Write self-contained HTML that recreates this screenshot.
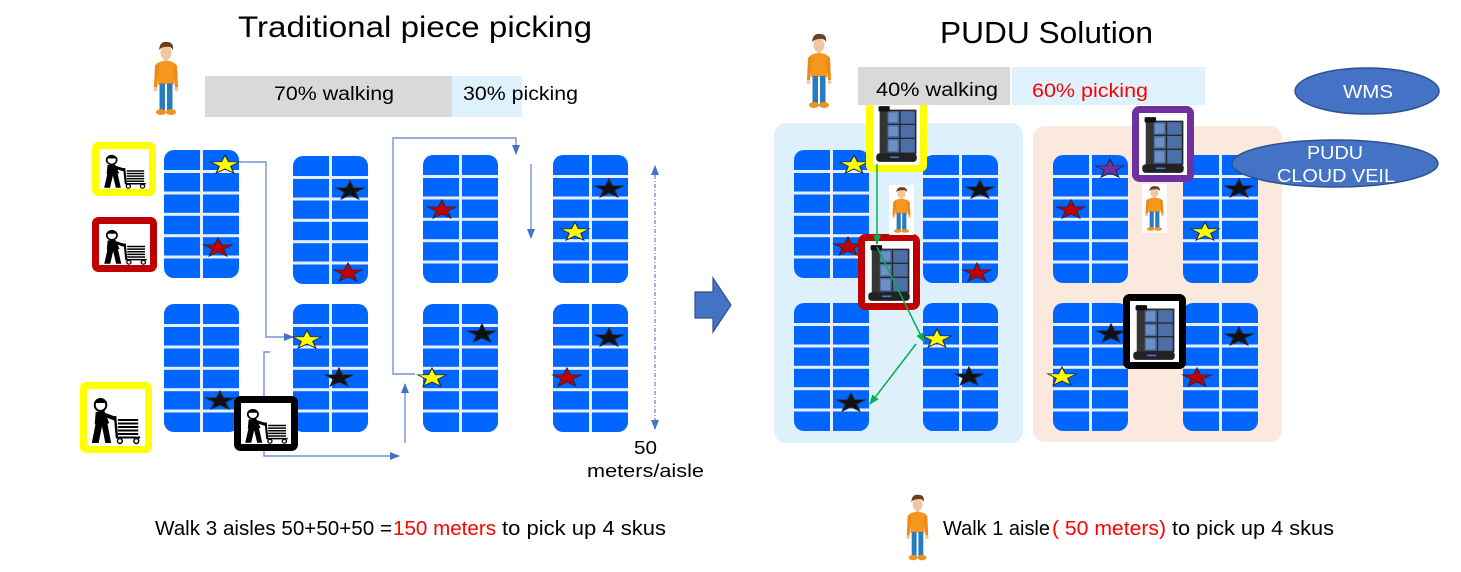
<!DOCTYPE html>
<html>
<head>
<meta charset="utf-8">
<style>
html,body{margin:0;padding:0;background:#fff;}
svg{display:block;}
text{font-family:"Liberation Sans",Arial,sans-serif;}
</style>
</head>
<body>
<svg width="1461" height="572" viewBox="0 0 1461 572" xmlns="http://www.w3.org/2000/svg">
<defs>
  <symbol id="shelf" viewBox="0 0 75 128" width="75" height="128">
    <rect x="0" y="0" width="75" height="128" rx="10" fill="#0066ff"/>
    <rect x="36" y="0" width="3" height="128" fill="#e6efff"/>
    <rect x="0" y="20" width="75" height="3" fill="#e6efff"/>
    <rect x="0" y="41.5" width="75" height="3" fill="#e6efff"/>
    <rect x="0" y="62.8" width="75" height="3" fill="#e6efff"/>
    <rect x="0" y="84.2" width="75" height="3" fill="#e6efff"/>
    <rect x="0" y="105.5" width="75" height="3" fill="#e6efff"/>
  </symbol>
  <path id="star" d="M0,-1 L0.235,-0.324 L0.951,-0.309 L0.380,0.124 L0.588,0.809 L0,0.4 L-0.588,0.809 L-0.380,0.124 L-0.951,-0.309 L-0.235,-0.324 Z"/>
  <symbol id="person" viewBox="0 0 28 78" preserveAspectRatio="none">
    <ellipse cx="14" cy="13" rx="5.5" ry="7" fill="#f2c6a0"/>
    <path d="M7,10 Q8,1 15,2 Q22,2 21,10 Q19,6 14,7 Q10,7 7,10 Z" fill="#6b3e1e"/>
    <rect x="12" y="19" width="4" height="4" fill="#f2c6a0"/>
    <path d="M6,23 Q14,19 22,23 L22,45 L6,45 Z" fill="#f5961d"/>
    <path d="M6,23 L3,26 L2,48 L5,48 L7,30 Z" fill="#f08a10"/>
    <path d="M22,23 L25,26 L26,48 L23,48 L21,30 Z" fill="#f08a10"/>
    <circle cx="3.5" cy="50" r="2" fill="#f2c6a0"/>
    <circle cx="24.5" cy="50" r="2" fill="#f2c6a0"/>
    <rect x="7.5" y="44" width="5.5" height="27" fill="#2a7cc0"/>
    <rect x="15" y="44" width="5.5" height="27" fill="#2a7cc0"/>
    <ellipse cx="9" cy="73" rx="5" ry="3" fill="#f0901d"/>
    <ellipse cx="19" cy="73" rx="5" ry="3" fill="#f0901d"/>
  </symbol>
  <symbol id="worker" viewBox="0 0 60 56" preserveAspectRatio="none">
    <circle cx="14" cy="15" r="6" fill="#fff" stroke="#000" stroke-width="2"/>
    <path d="M7,13 Q14,3 21,13 Z" fill="#000"/>
    <polygon points="9,22 18,21 23,33 14,37 8,34" fill="#000"/>
    <line x1="16" y1="24" x2="30" y2="29" stroke="#000" stroke-width="4"/>
    <polygon points="9,33 16,34 12,53 5,53" fill="#000"/>
    <polygon points="15,34 21,33 25,53 19,53" fill="#000"/>
    <line x1="29" y1="26" x2="31" y2="48" stroke="#000" stroke-width="2.5"/>
    <rect x="32" y="29" width="21" height="2" fill="#000"/>
    <rect x="32" y="32.5" width="21" height="2" fill="#000"/>
    <rect x="32" y="36" width="21" height="2" fill="#000"/>
    <rect x="32" y="39.5" width="21" height="2" fill="#000"/>
    <rect x="32" y="43" width="21" height="2" fill="#000"/>
    <line x1="30" y1="47.5" x2="55" y2="47.5" stroke="#000" stroke-width="2"/>
    <circle cx="34" cy="51" r="2.5" fill="#fff" stroke="#000" stroke-width="1.5"/>
    <circle cx="51" cy="51" r="2.5" fill="#fff" stroke="#000" stroke-width="1.5"/>
  </symbol>
  <symbol id="robot" viewBox="0 0 40 56" preserveAspectRatio="none">
    <rect x="10" y="6" width="27" height="40" fill="#4d6fa8" stroke="#2b2b2b" stroke-width="1.5"/>
    <line x1="10" y1="19" x2="37" y2="19" stroke="#2b2b2b" stroke-width="1.3"/>
    <line x1="10" y1="32" x2="37" y2="32" stroke="#2b2b2b" stroke-width="1.3"/>
    <line x1="23" y1="6" x2="23" y2="46" stroke="#2b2b2b" stroke-width="1.3"/>
    <rect x="13" y="8" width="8" height="9" fill="#6d8fc6"/>
    <rect x="13" y="21" width="8" height="9" fill="#6d8fc6"/>
    <rect x="13" y="34" width="8" height="10" fill="#6d8fc6"/>
    <rect x="5" y="5" width="7" height="43" fill="#353535"/>
    <rect x="4" y="2" width="10" height="5" rx="1" fill="#111"/>
    <rect x="2" y="46" width="36" height="8" rx="3" fill="#222"/>
    <rect x="14" y="49" width="8" height="1.5" fill="#3a7bd5"/>
  </symbol>
  <marker id="ab" markerWidth="10" markerHeight="10" refX="9" refY="5" orient="auto-start-reverse" markerUnits="userSpaceOnUse">
    <path d="M0,1 L10,5 L0,9 Z" fill="#4472c4"/>
  </marker>
  <marker id="ag" markerWidth="10" markerHeight="10" refX="9" refY="5" orient="auto" markerUnits="userSpaceOnUse">
    <path d="M0,1 L10,5 L0,9 Z" fill="#00b050"/>
  </marker>
</defs>

<!-- Titles -->
<text x="238" y="37" font-size="30" textLength="354" lengthAdjust="spacingAndGlyphs" fill="#000">Traditional piece picking</text>
<text x="940" y="43" font-size="31" textLength="213" lengthAdjust="spacingAndGlyphs" fill="#000">PUDU Solution</text>

<!-- Left bar -->
<rect x="205" y="76" width="247" height="41" fill="#d9d9d9"/>
<rect x="452" y="76" width="70" height="41" fill="#ddf2fd"/>
<text x="274" y="100" font-size="19" textLength="120" lengthAdjust="spacingAndGlyphs" fill="#000">70% walking</text>
<text x="463" y="100" font-size="19" textLength="115" lengthAdjust="spacingAndGlyphs" fill="#000">30% picking</text>

<!-- Left persons -->
<use href="#person" x="152" y="40" width="28" height="77"/>

<!-- Left shelves -->
<use href="#shelf" x="164" y="150"/>
<use href="#shelf" x="293" y="156"/>
<use href="#shelf" x="164" y="304"/>
<use href="#shelf" x="293" y="304"/>
<use href="#shelf" x="423" y="155"/>
<use href="#shelf" x="553" y="155"/>
<use href="#shelf" x="423" y="304"/>
<use href="#shelf" x="553" y="304"/>

<!-- Left connectors -->
<g fill="none" stroke="#7394d4" stroke-width="1.4">
  <polyline points="240,162 266,162 266,337 293,337" marker-end="url(#ab)"/>
  <polyline points="270,352 264,352 264,456 399,456" marker-end="url(#ab)"/>
  <line x1="405" y1="443" x2="405" y2="384" marker-end="url(#ab)"/>
  <polyline points="415,374 393,374 393,138 516,138 516,154" marker-end="url(#ab)"/>
  <line x1="531" y1="164" x2="531" y2="238" marker-end="url(#ab)"/>
  <line x1="655" y1="166" x2="655" y2="429" stroke-dasharray="4 2 1 2" marker-start="url(#ab)" marker-end="url(#ab)"/>
</g>

<!-- Stars left -->
<g stroke="#1f2a44" stroke-width="0.08" stroke-linejoin="miter">
  <use href="#star" transform="translate(225,165) scale(15,10)" fill="#ffff00"/>
  <use href="#star" transform="translate(218,248) scale(15,10)" fill="#c00000"/>
  <use href="#star" transform="translate(350,191) scale(15,10)" fill="#111"/>
  <use href="#star" transform="translate(348,273) scale(15,10)" fill="#c00000"/>
  <use href="#star" transform="translate(220,401) scale(15,10)" fill="#111"/>
  <use href="#star" transform="translate(307,340) scale(15,10)" fill="#ffff00"/>
  <use href="#star" transform="translate(339,378) scale(15,10)" fill="#111"/>
  <use href="#star" transform="translate(442,210) scale(15,10)" fill="#c00000"/>
  <use href="#star" transform="translate(609,189) scale(15,10)" fill="#111"/>
  <use href="#star" transform="translate(575,232) scale(15,10)" fill="#ffff00"/>
  <use href="#star" transform="translate(482,334) scale(15,10)" fill="#111"/>
  <use href="#star" transform="translate(432,378) scale(15,10)" fill="#ffff00"/>
  <use href="#star" transform="translate(609,338) scale(15,10)" fill="#111"/>
  <use href="#star" transform="translate(567,378) scale(15,10)" fill="#c00000"/>
</g>

<!-- Trolley icons -->
<rect x="95.5" y="145.5" width="57" height="47" rx="3" fill="#fff" stroke="#ffff00" stroke-width="7"/>
<use href="#worker" x="100" y="149" width="50" height="41"/>
<rect x="95.5" y="220.5" width="58" height="48" rx="3" fill="#fff" stroke="#c00000" stroke-width="7"/>
<use href="#worker" x="100" y="224" width="51" height="42"/>
<rect x="83.5" y="385.5" width="65" height="64" rx="3" fill="#fff" stroke="#ffff00" stroke-width="7"/>
<use href="#worker" x="87" y="390" width="58" height="56"/>
<rect x="237.5" y="399.5" width="57" height="48" rx="3" fill="#fff" stroke="#000" stroke-width="7"/>
<use href="#worker" x="241" y="403" width="51" height="42"/>

<!-- 50 meters/aisle -->
<text x="634" y="454" font-size="18" textLength="23" lengthAdjust="spacingAndGlyphs" fill="#000">50</text>
<text x="587" y="477" font-size="18" textLength="117" lengthAdjust="spacingAndGlyphs" fill="#000">meters/aisle</text>

<!-- Bottom left text -->
<text x="155" y="535" font-size="20" textLength="237" lengthAdjust="spacingAndGlyphs" fill="#000">Walk 3 aisles 50+50+50 =</text>
<text x="393" y="535" font-size="20" textLength="103" lengthAdjust="spacingAndGlyphs" fill="#ff0000">150 meters</text>
<text x="502" y="535" font-size="20" textLength="164" lengthAdjust="spacingAndGlyphs" fill="#000">to pick up 4 skus</text>

<!-- Block arrow -->
<path d="M695,292 L713,292 L713,278 L731,305 L713,332 L713,318 L695,318 Z" fill="#4472c4" stroke="#2f528f" stroke-width="1.2"/>

<!-- Right panels -->
<rect x="774" y="123" width="249" height="320" rx="12" fill="#def0fb"/>
<rect x="1033" y="126" width="249" height="316" rx="12" fill="#fbe9dd"/>

<!-- Right shelves -->
<use href="#shelf" x="794" y="150"/>
<use href="#shelf" x="923" y="155"/>
<use href="#shelf" x="794" y="303"/>
<use href="#shelf" x="923" y="303"/>
<use href="#shelf" x="1053" y="155"/>
<use href="#shelf" x="1183" y="155"/>
<use href="#shelf" x="1053" y="303"/>
<use href="#shelf" x="1183" y="303"/>

<!-- Stars right -->
<g stroke="#1f2a44" stroke-width="0.08">
  <use href="#star" transform="translate(854,165) scale(15,10)" fill="#ffff00"/>
  <use href="#star" transform="translate(848,247) scale(15,10)" fill="#c00000"/>
  <use href="#star" transform="translate(980,190) scale(15,10)" fill="#111"/>
  <use href="#star" transform="translate(977,273) scale(15,10)" fill="#c00000"/>
  <use href="#star" transform="translate(851,403) scale(15,10)" fill="#111"/>
  <use href="#star" transform="translate(937,339) scale(15,10)" fill="#ffff00"/>
  <use href="#star" transform="translate(969,377) scale(15,10)" fill="#111"/>
  <use href="#star" transform="translate(1110,169) scale(15,10)" fill="#7030a0"/>
  <use href="#star" transform="translate(1071,210) scale(15,10)" fill="#c00000"/>
  <use href="#star" transform="translate(1239,189) scale(15,10)" fill="#111"/>
  <use href="#star" transform="translate(1205,232) scale(15,10)" fill="#ffff00"/>
  <use href="#star" transform="translate(1111,334) scale(15,10)" fill="#111"/>
  <use href="#star" transform="translate(1062,377) scale(15,10)" fill="#ffff00"/>
  <use href="#star" transform="translate(1239,337) scale(15,10)" fill="#111"/>
  <use href="#star" transform="translate(1197,378) scale(15,10)" fill="#c00000"/>
</g>

<!-- Robot frames -->
<rect x="869.5" y="98" width="54" height="70.5" rx="3" fill="#fff" stroke="#ffff00" stroke-width="7"/>
<use href="#robot" x="874" y="104" width="45" height="60"/>
<rect x="861.5" y="237.5" width="55" height="69" rx="4" fill="#fff" stroke="#c00000" stroke-width="7"/>
<use href="#robot" x="866" y="243" width="46" height="60"/>
<rect x="1135.5" y="109.5" width="55" height="69" rx="4" fill="#fff" stroke="#7030a0" stroke-width="7"/>
<use href="#robot" x="1140" y="115" width="46" height="60"/>
<rect x="1126.5" y="297.5" width="56" height="68" rx="3" fill="#fff" stroke="#000" stroke-width="7"/>
<use href="#robot" x="1131" y="303" width="46" height="59"/>

<!-- Small persons -->
<rect x="889" y="185" width="25" height="50" fill="#fff"/>
<use href="#person" x="891" y="186" width="21" height="48"/>
<rect x="1142" y="184" width="25" height="49" fill="#fff"/>
<use href="#person" x="1144" y="185" width="21" height="47"/>

<!-- Green arrows -->
<g fill="none" stroke="#00b050" stroke-width="1.5">
  <line x1="877" y1="164" x2="877" y2="244" marker-end="url(#ag)"/>
  <line x1="877" y1="247" x2="924" y2="342" marker-end="url(#ag)"/>
  <line x1="916" y1="344" x2="870" y2="404" marker-end="url(#ag)"/>
</g>

<!-- Right top person and bar -->
<use href="#person" x="805" y="32" width="28" height="78"/>
<rect x="858" y="67" width="152" height="38" fill="#d9d9d9"/>
<rect x="1012" y="67" width="193" height="38" fill="#ddf2fd"/>
<text x="876" y="96" font-size="19" textLength="122" lengthAdjust="spacingAndGlyphs" fill="#000">40% walking</text>
<text x="1032" y="97" font-size="19" textLength="116" lengthAdjust="spacingAndGlyphs" fill="#ff0000">60% picking</text>

<!-- Ellipses -->
<ellipse cx="1367" cy="91" rx="72" ry="23" fill="#4472c4" stroke="#2f528f" stroke-width="1.5"/>
<text x="1343" y="98" font-size="18" textLength="50" lengthAdjust="spacingAndGlyphs" fill="#fff">WMS</text>
<ellipse cx="1335" cy="163.5" rx="103" ry="23.5" fill="#4472c4" stroke="#2f528f" stroke-width="1.5"/>
<text x="1307" y="159" font-size="18" textLength="56" lengthAdjust="spacingAndGlyphs" fill="#fff">PUDU</text>
<text x="1277" y="182" font-size="18" textLength="118" lengthAdjust="spacingAndGlyphs" fill="#fff">CLOUD VEIL</text>

<!-- Bottom right -->
<use href="#person" x="905" y="493" width="25" height="69"/>
<text x="943" y="535" font-size="20" textLength="107" lengthAdjust="spacingAndGlyphs" fill="#000">Walk 1 aisle</text>
<text x="1052" y="535" font-size="20" textLength="114" lengthAdjust="spacingAndGlyphs" fill="#ff0000">( 50 meters)</text>
<text x="1172" y="535" font-size="20" textLength="162" lengthAdjust="spacingAndGlyphs" fill="#000">to pick up 4 skus</text>
</svg>
</body>
</html>
